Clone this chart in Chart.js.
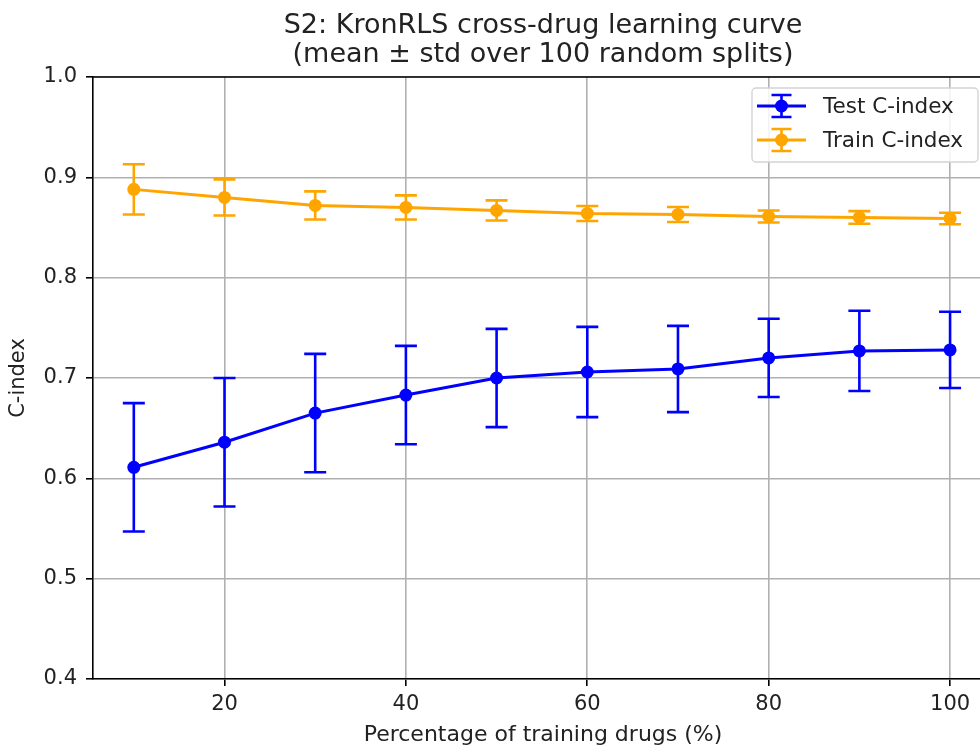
<!DOCTYPE html>
<html>
<head>
<meta charset="utf-8">
<script src="https://cdn.jsdelivr.net/npm/chart.js@4"></script>
<style>
  html, body { margin: 0; padding: 0; background: #fff; }
</style>
</head>
<body>
<canvas id="curve" width="980" height="749"></canvas>
<script>
// training fraction (%) and the C-index summary for each split size
const trainPct = [10, 20, 30, 40, 50, 60, 70, 80, 90, 100];
const testMean = [0.611, 0.636, 0.665, 0.683, 0.700, 0.706, 0.709, 0.720, 0.727, 0.728];
const testStd = [0.064, 0.064, 0.059, 0.049, 0.049, 0.045, 0.043, 0.039, 0.040, 0.038];
const trainMean = [0.888, 0.880, 0.872, 0.870, 0.867, 0.864, 0.863, 0.861, 0.860, 0.859];
const trainStd = [0.025, 0.018, 0.014, 0.012, 0.010, 0.0075, 0.0075, 0.006, 0.0063, 0.0057];

const xTicks = [20, 40, 60, 80, 100];
const yTicks = [0.4, 0.5, 0.6, 0.7, 0.8, 0.9, 1.0];

const titleLines = ['S2: KronRLS cross-drug learning curve', '(mean \u00b1 std over 100 random splits)'];
const xLabel = 'Percentage of training drugs (%)';

const BLUE = '#0000ff';
const ORANGE = '#ffa500';
const FONT = "'DejaVu Sans', sans-serif";
const INK = '#222';

function points(means) {
  return trainPct.map((x, i) => ({ x: x, y: means[i] }));
}

// vertical bars with caps at mean +/- std, drawn through the chart scales
const errorBars = {
  id: 'errorBars',
  beforeDatasetsDraw(chart) {
    const ctx = chart.ctx;
    const xs = chart.scales.x, ys = chart.scales.y;
    chart.data.datasets.forEach(ds => {
      ctx.save();
      ctx.strokeStyle = ds.borderColor;
      ctx.lineWidth = 2.6;
      ds.data.forEach((p, i) => {
        const px = xs.getPixelForValue(p.x);
        const top = ys.getPixelForValue(p.y + ds.std[i]);
        const bot = ys.getPixelForValue(p.y - ds.std[i]);
        ctx.beginPath();
        ctx.moveTo(px, top); ctx.lineTo(px, bot);
        ctx.moveTo(px - 11, top); ctx.lineTo(px + 11, top);
        ctx.moveTo(px - 11, bot); ctx.lineTo(px + 11, bot);
        ctx.stroke();
      });
      ctx.restore();
    });
  }
};

// title, x label, top spine and the errorbar-style legend box
const frame = {
  id: 'frame',
  afterDraw(chart) {
    const ctx = chart.ctx;
    const a = chart.chartArea;
    ctx.save();
    ctx.strokeStyle = '#000';
    ctx.lineWidth = 1.6;
    ctx.beginPath();
    ctx.moveTo(a.left, a.top); ctx.lineTo(a.right, a.top);
    ctx.stroke();

    // two-line title centred over the axes
    ctx.fillStyle = INK;
    ctx.font = '27px ' + FONT;
    ctx.textAlign = 'center';
    ctx.textBaseline = 'alphabetic';
    ctx.fillText(titleLines[0], 543, 33);
    ctx.fillText(titleLines[1], 543, 62);

    ctx.font = '22px ' + FONT;
    ctx.textBaseline = 'middle';
    ctx.fillText(xLabel, 543, 735);

    // legend
    const bx = 752, by = 88, bw = 226, bh = 74;
    ctx.fillStyle = 'rgba(255,255,255,0.85)';
    ctx.strokeStyle = '#d4d4d4';
    ctx.lineWidth = 1.4;
    ctx.beginPath();
    ctx.roundRect(bx, by, bw, bh, 4);
    ctx.fill();
    ctx.stroke();

    chart.data.datasets.forEach((ds, k) => {
      const cy = 106 + k * 34;
      const cx = 781.5;
      ctx.strokeStyle = ds.borderColor;
      ctx.fillStyle = ds.borderColor;
      ctx.lineWidth = 2.8;
      ctx.beginPath();
      ctx.moveTo(757, cy); ctx.lineTo(806, cy);
      ctx.stroke();
      ctx.lineWidth = 2.6;
      ctx.beginPath();
      ctx.moveTo(cx, cy - 11); ctx.lineTo(cx, cy + 11);
      ctx.moveTo(cx - 10, cy - 11); ctx.lineTo(cx + 10, cy - 11);
      ctx.moveTo(cx - 10, cy + 11); ctx.lineTo(cx + 10, cy + 11);
      ctx.stroke();
      ctx.beginPath();
      ctx.arc(cx, cy, 6.5, 0, Math.PI * 2);
      ctx.fill();
      ctx.fillStyle = INK;
      ctx.font = '21.5px ' + FONT;
      ctx.textBaseline = 'middle';
      ctx.textAlign = 'left';
      ctx.fillText(ds.label, 823, cy + 1);
    });
    ctx.restore();
  }
};

new Chart(document.getElementById('curve'), {
  type: 'line',
  data: {
    datasets: [
      {
        label: 'Test C-index',
        data: points(testMean),
        std: testStd,
        borderColor: BLUE,
        backgroundColor: BLUE,
        borderWidth: 3,
        pointRadius: 6.5,
        pointBorderWidth: 0,
        pointHoverRadius: 6.5,
        tension: 0
      },
      {
        label: 'Train C-index',
        data: points(trainMean),
        std: trainStd,
        borderColor: ORANGE,
        backgroundColor: ORANGE,
        borderWidth: 3,
        pointRadius: 6.5,
        pointBorderWidth: 0,
        pointHoverRadius: 6.5,
        tension: 0
      }
    ]
  },
  options: {
    responsive: false,
    animation: false,
    events: [],
    layout: { autoPadding: false, padding: { left: 0, right: 0, top: 77, bottom: 0 } },
    plugins: {
      legend: { display: false },
      tooltip: { enabled: false },
      title: { display: false }
    },
    scales: {
      x: {
        type: 'linear',
        min: 5.5,
        max: 103.3,
        afterBuildTicks: s => { s.ticks = xTicks.map(v => ({ value: v })); },
        afterFit: s => { s.height = 70; s.paddingLeft = 0; s.paddingRight = 0; },
        ticks: {
          color: INK,
          font: { family: FONT, size: 21 },
          padding: 6,
          maxRotation: 0,
          callback: v => String(v)
        },
        grid: { color: '#b0b0b0', lineWidth: 1.6, tickLength: 7, tickColor: '#000', tickWidth: 1.6 },
        border: { color: '#000', width: 1.6 }
      },
      y: {
        type: 'linear',
        min: 0.4,
        max: 1.0,
        afterBuildTicks: s => { s.ticks = yTicks.map(v => ({ value: v })); },
        afterFit: s => { s.width = 93; s.paddingTop = 0; s.paddingBottom = 0; },
        ticks: {
          color: INK,
          font: { family: FONT, size: 21 },
          padding: 9,
          callback: v => v.toFixed(1)
        },
        grid: { color: '#b0b0b0', lineWidth: 1.6, tickLength: 7, tickColor: '#000', tickWidth: 1.6 },
        border: { color: '#000', width: 1.6 },
        title: {
          display: true,
          text: 'C-index',
          color: INK,
          font: { family: FONT, size: 21 },
          padding: { top: 6, bottom: 0 }
        }
      }
    }
  },
  plugins: [errorBars, frame]
});
</script>
</body>
</html>
